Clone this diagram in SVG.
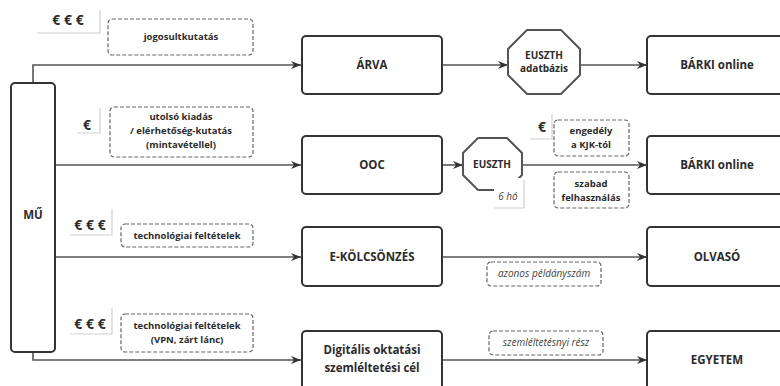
<svg xmlns="http://www.w3.org/2000/svg" width="780" height="386" viewBox="0 0 780 386">
<style>
text{font-family:"Open Sans","Liberation Sans",sans-serif;fill:#2b2b2b;text-anchor:middle}
.node{fill:#fff;stroke:#333;stroke-width:2}
.oct{fill:#fff;stroke:#555;stroke-width:2}
.nt{font-size:11.5px;font-weight:700}
.dash{fill:#fff;stroke:#666;stroke-width:1.2;stroke-dasharray:4 2}
.lt{font-size:9.5px;font-weight:700}
.ot{font-size:10px;font-weight:700}
.it{font-size:10px;font-style:italic;fill:#444}
.eur{font-size:14px;font-weight:700}
.sh{fill:none;stroke:#d0d0d0;stroke-width:1.2}
.con{fill:none;stroke:#555;stroke-width:1.6}
</style>
<defs>
<marker id="arr" viewBox="0 0 10 8" refX="10" refY="4" markerWidth="10" markerHeight="8" markerUnits="userSpaceOnUse" orient="auto">
<path d="M0,0 L10,4 L0,8 L3,4 z" fill="#333"/>
</marker>
</defs>
<rect width="780" height="386" fill="#fff"/>

<g id="connectors">
<path class="con" d="M33,83 V65 H301" marker-end="url(#arr)"/>
<path class="con" d="M442,65 H508" marker-end="url(#arr)"/>
<path class="con" d="M580,65 H647" marker-end="url(#arr)"/>
<path class="con" d="M55,165 H301" marker-end="url(#arr)"/>
<path class="con" d="M442,165 H463" marker-end="url(#arr)"/>
<path class="con" d="M522,165 H647" marker-end="url(#arr)"/>
<path class="con" d="M55,257 H301" marker-end="url(#arr)"/>
<path class="con" d="M442,257 H647" marker-end="url(#arr)"/>
<path class="con" d="M33,352 V360 H301" marker-end="url(#arr)"/>
<path class="con" d="M442,360 H647" marker-end="url(#arr)"/>
</g>

<g id="mu">
<rect class="node" x="11" y="83" width="44" height="269" rx="4"/>
<text class="nt" x="33" y="219">MŰ</text>
</g>

<g id="cost-arva">
<path class="sh" d="M37,33 H100 V10"/>
<text class="eur" x="68" y="25">€ € €</text>
</g>
<g id="label-jogosult">
<rect class="dash" x="108" y="19" width="145" height="36" rx="4"/>
<text class="lt" x="181" y="40">jogosultkutatás</text>
</g>
<g id="arva">
<rect class="node" x="302" y="36" width="140" height="58" rx="4"/>
<text class="nt" x="372" y="69">ÁRVA</text>
</g>
<g id="euszth-adatbazis">
<polygon class="oct" points="527,30 561,30 580,49 580,75 561,94 527,94 508,75 508,49"/>
<text class="ot" x="544" y="59">EUSZTH</text>
<text class="ot" x="544" y="72">adatbázis</text>
</g>
<g id="barki1">
<rect class="node" x="647" y="36" width="140" height="58" rx="4"/>
<text class="nt" x="717" y="69">BÁRKI online</text>
</g>

<g id="cost-ooc">
<path class="sh" d="M77,133 H100 V108"/>
<text class="eur" x="87" y="130">€</text>
</g>
<g id="label-utolso">
<rect class="dash" x="110" y="107" width="143" height="50" rx="4"/>
<text class="lt" x="181" y="120">utolsó kiadás</text>
<text class="lt" x="181" y="134">/ elérhetőség-kutatás</text>
<text class="lt" x="181" y="148">(mintavétellel)</text>
</g>
<g id="ooc">
<rect class="node" x="302" y="136" width="140" height="58" rx="4"/>
<text class="nt" x="372" y="169">OOC</text>
</g>
<g id="euszth">
<polygon class="oct" points="478,138 507,138 522,153 522,175 507,190 478,190 463,175 463,153"/>
<text class="ot" x="492" y="168">EUSZTH</text>
</g>
<g id="label-6ho">
<rect x="494" y="178" width="30" height="30" fill="#fff"/>
<path class="sh" d="M494,208 H524 V180"/>
<text class="it" x="508" y="200">6 hó</text>
</g>
<g id="cost-engedely">
<path class="sh" d="M530,139 H552 V114"/>
<text class="eur" x="542" y="132">€</text>
</g>
<g id="label-engedely">
<rect class="dash" x="554" y="120" width="75" height="36" rx="4"/>
<text class="lt" x="591" y="134">engedély</text>
<text class="lt" x="591" y="148">a KJK-tól</text>
</g>
<g id="label-szabad">
<rect class="dash" x="554" y="172" width="75" height="36" rx="4"/>
<text class="lt" x="591" y="187">szabad</text>
<text class="lt" x="591" y="201">felhasználás</text>
</g>
<g id="barki2">
<rect class="node" x="647" y="136" width="140" height="58" rx="4"/>
<text class="nt" x="717" y="169">BÁRKI online</text>
</g>

<g id="cost-ekolcs">
<path class="sh" d="M70,235 H112 V209"/>
<text class="eur" x="90" y="230">€ € €</text>
</g>
<g id="label-tech1">
<rect class="dash" x="121" y="224" width="132" height="23" rx="4"/>
<text class="lt" x="187" y="239">technológiai feltételek</text>
</g>
<g id="ekolcsonzes">
<rect class="node" x="302" y="227" width="140" height="59" rx="4"/>
<text class="nt" x="372" y="261">E-KÖLCSÖNZÉS</text>
</g>
<g id="label-azonos">
<rect class="dash" x="487" y="262" width="114" height="24" rx="4"/>
<text class="it" x="544" y="277">azonos példányszám</text>
</g>
<g id="olvaso">
<rect class="node" x="647" y="227" width="140" height="59" rx="4"/>
<text class="nt" x="717" y="261">OLVASÓ</text>
</g>

<g id="cost-digit">
<path class="sh" d="M70,334 H112 V308"/>
<text class="eur" x="90" y="329">€ € €</text>
</g>
<g id="label-tech2">
<rect class="dash" x="121" y="314" width="132" height="38" rx="4"/>
<text class="lt" x="187" y="329">technológiai feltételek</text>
<text class="lt" x="187" y="343">(VPN, zárt lánc)</text>
</g>
<g id="digitalis">
<rect class="node" x="302" y="331" width="140" height="60" rx="4"/>
<text class="nt" x="372" y="354">Digitális oktatási</text>
<text class="nt" x="372" y="372">szemléltetési cél</text>
</g>
<g id="label-szemlelt">
<rect class="dash" x="489" y="331" width="114" height="24" rx="4"/>
<text class="it" x="546" y="346">szemléltetésnyi rész</text>
</g>
<g id="egyetem">
<rect class="node" x="647" y="331" width="140" height="60" rx="4"/>
<text class="nt" x="717" y="364">EGYETEM</text>
</g>
</svg>
